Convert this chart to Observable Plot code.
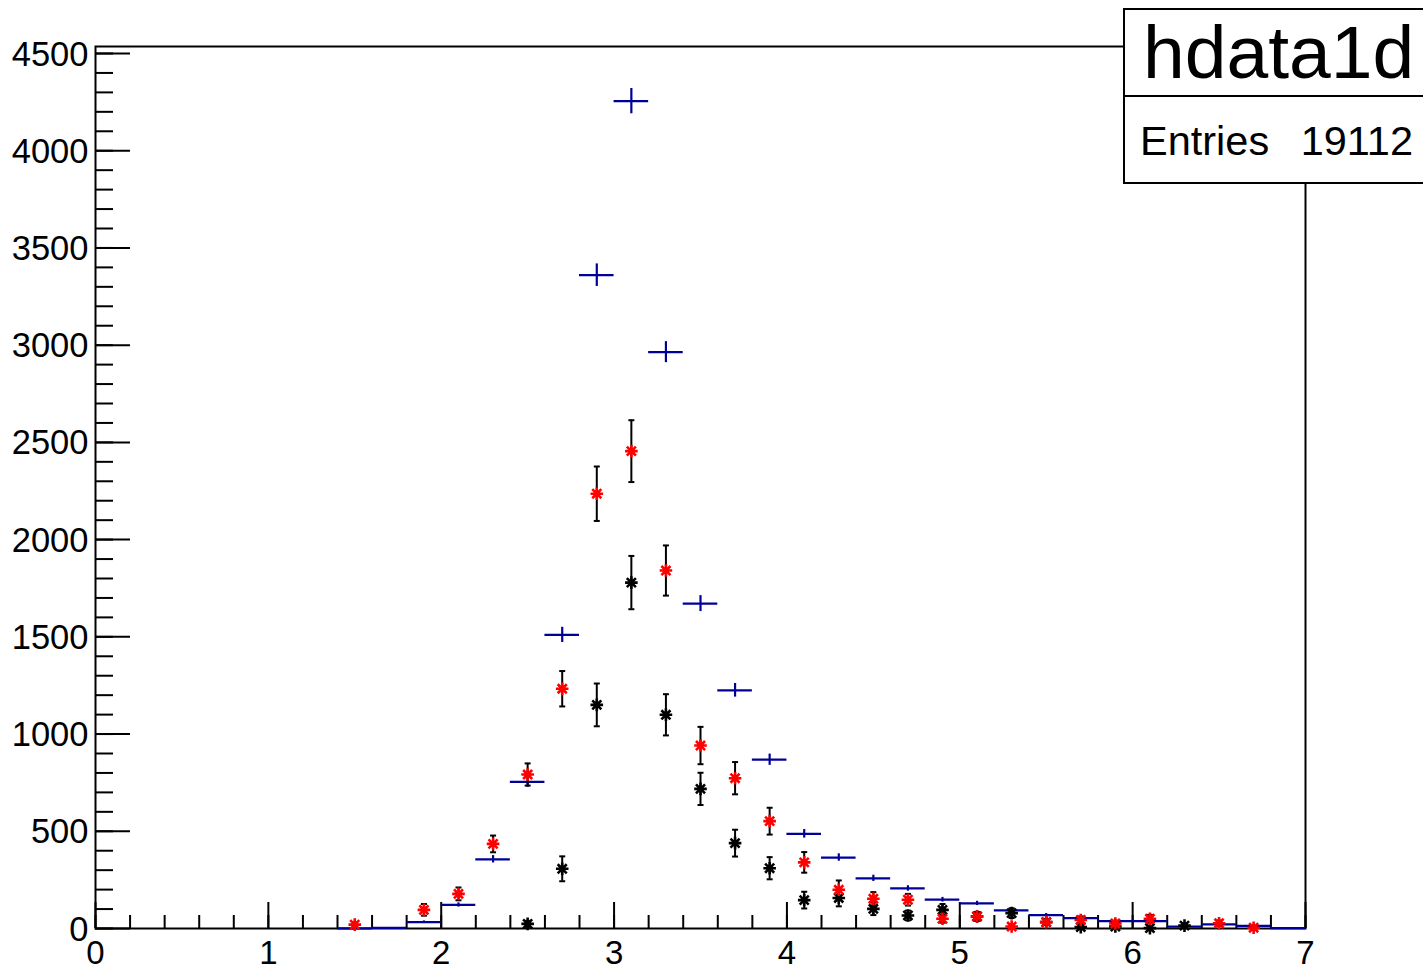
<!DOCTYPE html>
<html><head><meta charset="utf-8">
<script src="https://cdn.jsdelivr.net/npm/d3@7"></script>
<script src="https://cdn.jsdelivr.net/npm/@observablehq/plot@0.6"></script>
<style>
html,body{margin:0;padding:0;background:#fff;overflow:hidden;}
#wrap{position:relative;width:1423px;height:970px;font-family:"Liberation Sans",Arial,Helvetica,sans-serif;color:#000;}
#wrap svg{position:absolute;left:0;top:0;}
#stats{position:absolute;left:1123px;top:8px;width:330px;height:176px;box-sizing:border-box;border:2px solid #000;background:#fff;z-index:2;}
#divider{position:absolute;left:1123px;top:95px;width:330px;height:2px;background:#000;z-index:3;}
.st{position:absolute;line-height:1;white-space:nowrap;z-index:4;}
#sname{left:1143px;top:15px;font-size:75px;}
#slab{left:1140px;top:120px;font-size:41.5px;}
#sval{right:10px;top:120px;font-size:41.5px;}
</style></head>
<body>
<div id="wrap">
  <div id="stats"></div>
  <div id="divider"></div>
  <div class="st" id="sname"></div>
  <div class="st" id="slab"></div>
  <div class="st" id="sval"></div>
</div>
<script>
// ---- data ----
const histName = "hdata1d";
const entriesLabel = "Entries";
const entriesValue = "19112";
const binWidth = 0.2;
const xDomain = [0, 7];
const yDomain = [0, 4536];

// blue histogram (bin centres, contents, errors)
const blueX   = [1.5, 1.7, 1.9, 2.1, 2.3, 2.5, 2.7, 2.9, 3.1, 3.3, 3.5, 3.7, 3.9, 4.1, 4.3, 4.5, 4.7, 4.9, 5.1, 5.3, 5.5, 5.7, 5.9, 6.1, 6.3, 6.5, 6.7, 6.9];
const blueY   = [1, 3, 33, 121, 356, 754, 1510, 3360, 4255, 2964, 1671, 1225, 868, 487, 365, 258, 206, 148, 129, 93, 69, 53, 38, 38, 10, 21, 14, 2];
const blueErr = [1, 2, 6, 11, 19, 28, 39, 58, 65, 54, 41, 35, 29, 22, 19, 16, 14, 12, 11, 10, 8, 7, 6, 6, 3, 5, 4, 1];

// red points
const redX   = [1.5, 1.9, 2.1, 2.3, 2.5, 2.7, 2.9, 3.1, 3.3, 3.5, 3.7, 3.9, 4.1, 4.3, 4.5, 4.7, 4.9, 5.1, 5.3, 5.5, 5.7, 5.9, 6.1, 6.5, 6.7];
const redY   = [20, 96, 178, 435, 792, 1233, 2236, 2455, 1841, 941, 773, 552, 340, 199, 153, 148, 50, 62, 10, 33, 44, 26, 50, 27, 4];
const redErr = [12, 30, 33, 43, 57, 91, 140, 159, 129, 96, 83, 69, 53, 48, 34, 30, 20, 20, 10, 15, 18, 14, 20, 14, 6];

// black points
const blackX   = [2.5, 2.7, 2.9, 3.1, 3.3, 3.5, 3.7, 3.9, 4.1, 4.3, 4.5, 4.7, 4.9, 5.1, 5.3, 5.5, 5.7, 5.9, 6.1, 6.3];
const blackY   = [24, 307, 1150, 1779, 1099, 718, 439, 310, 146, 157, 101, 67, 96, 62, 79, 33, 7, 10, 2, 15];
const blackErr = [15, 64, 110, 137, 106, 83, 69, 57, 43, 43, 32, 25, 30, 22, 25, 15, 8, 10, 5, 12];

// ticks
const xMajor = [0, 1, 2, 3, 4, 5, 6, 7];
const xMinor = d3.range(0, 35.5, 1).map(i => +(i * 0.2).toFixed(1));
const yMajor = [0, 500, 1000, 1500, 2000, 2500, 3000, 3500, 4000, 4500];
const yMinor = d3.range(0, 46, 1).map(i => i * 100);

// ---- build ----
const mk = (xs, ys, es) => xs.map((c, i) => ({c, v: ys[i], e: es[i]}));
const blue = mk(blueX, blueY, blueErr);
const red = mk(redX, redY, redErr);
const black = mk(blackX, blackY, blackErr);

const blueColor = "#000099";
const asterisk = {draw(ctx, size) {
  const r = Math.sqrt(size / Math.PI), d = r * 0.72;
  ctx.moveTo(-r, 0); ctx.lineTo(r, 0);
  ctx.moveTo(0, -r); ctx.lineTo(0, r);
  ctx.moveTo(-d, -d); ctx.lineTo(d, d);
  ctx.moveTo(-d, d); ctx.lineTo(d, -d);
}};
const cap = {draw(ctx, size) {
  const r = Math.sqrt(size / Math.PI);
  ctx.moveTo(-r, 0); ctx.lineTo(r, 0);
}};

function points(data, color) {
  return [
    Plot.ruleX(data, {x: "c", y1: d => d.v - d.e, y2: d => d.v + d.e, stroke: "black", strokeWidth: 2}),
    Plot.dot(data, {x: "c", y: d => d.v - d.e, symbol: cap, r: 3, stroke: "black", fill: "none", strokeWidth: 2}),
    Plot.dot(data, {x: "c", y: d => d.v + d.e, symbol: cap, r: 3, stroke: "black", fill: "none", strokeWidth: 2}),
    Plot.dot(data, {x: "c", y: "v", symbol: asterisk, r: 6.3, stroke: color, fill: "none", strokeWidth: 2.6})
  ];
}

const fmt = d3.format("d");
const chart = Plot.plot({
  width: 1423, height: 970,
  marginLeft: 95, marginRight: 118, marginTop: 46, marginBottom: 42,
  style: {fontFamily: '"Liberation Sans", Arial, Helvetica, sans-serif', background: "white", color: "black", overflow: "visible"},
  x: {domain: xDomain},
  y: {domain: yDomain},
  marks: [
    Plot.axisX(xMinor, {tickSize: 13, dy: -13, fill: "none", stroke: "black", strokeWidth: 2}),
    Plot.axisX(xMajor, {tickSize: 26, dy: -26, fill: "none", stroke: "black", strokeWidth: 2}),
    Plot.axisX(xMajor, {tickSize: 0, tickPadding: 12, fontSize: 33, label: null, tickFormat: fmt, fill: "black"}),
    Plot.axisY(yMinor, {tickSize: 18, dx: 18, fill: "none", stroke: "black", strokeWidth: 2}),
    Plot.axisY(yMajor, {tickSize: 35, dx: 35, fill: "none", stroke: "black", strokeWidth: 2}),
    Plot.axisY(yMajor, {tickSize: 0, tickPadding: 7, fontSize: 34.5, label: null, tickFormat: fmt, fill: "black", dy: 1}),
    Plot.frame({stroke: "black", strokeWidth: 2}),
    Plot.ruleY(blue, {y: "v", x1: d => d.c - binWidth / 2, x2: d => d.c + binWidth / 2, stroke: blueColor, strokeWidth: 2.2}),
    Plot.ruleX(blue, {x: "c", y1: d => d.v - d.e, y2: d => d.v + d.e, stroke: blueColor, strokeWidth: 2.2}),
    ...points(black, "black"),
    ...points(red, "#ff0000")
  ]
});
document.getElementById("wrap").appendChild(chart);
document.getElementById("sname").textContent = histName;
document.getElementById("slab").textContent = entriesLabel;
document.getElementById("sval").textContent = entriesValue;
</script>
</body></html>
